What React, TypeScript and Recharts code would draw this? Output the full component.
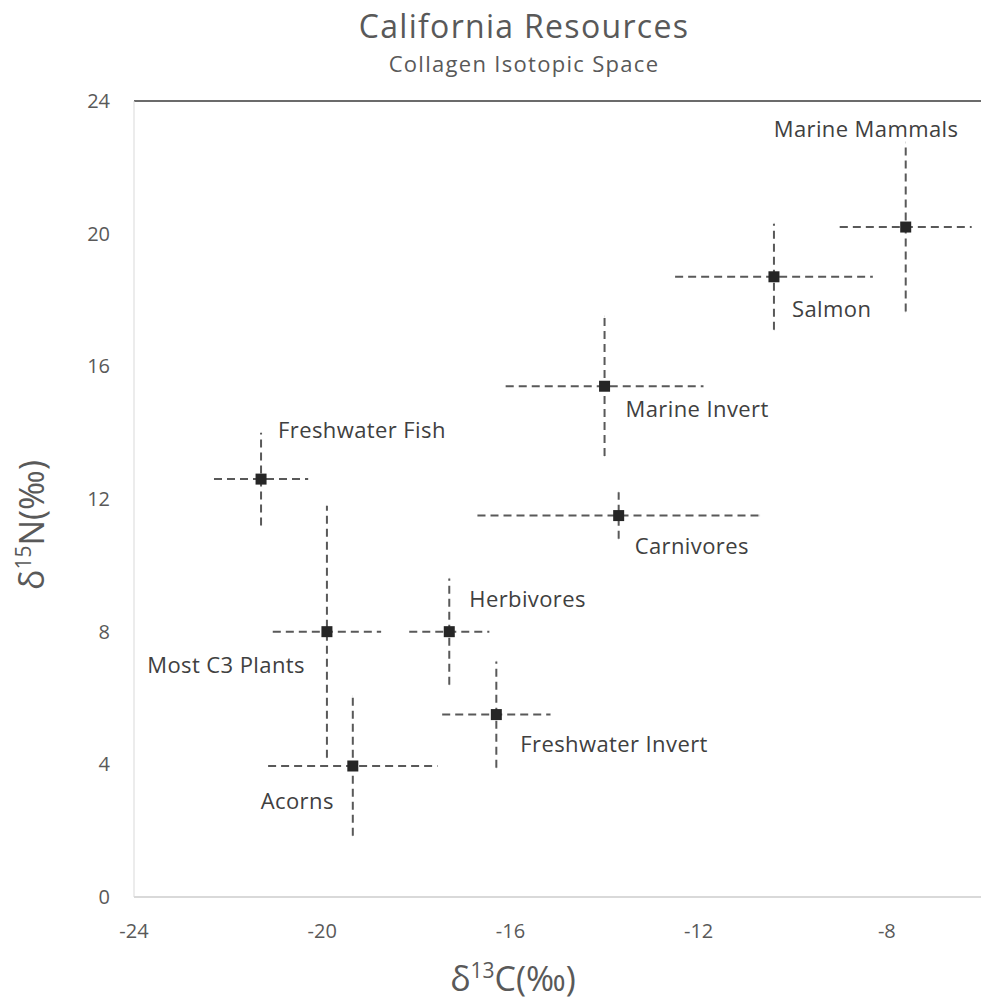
import { ScatterChart, Scatter, XAxis, YAxis, ErrorBar, ReferenceLine } from "recharts";

// Mean collagen isotope values (per mil) with one standard deviation
const groups = [
  "Marine Mammals",
  "Salmon",
  "Marine Invert",
  "Carnivores",
  "Freshwater Fish",
  "Most C3 Plants",
  "Herbivores",
  "Acorns",
  "Freshwater Invert",
];
const carbon = [-7.6, -10.4, -14.0, -13.7, -21.3, -19.9, -17.3, -19.35, -16.3];
const nitrogen = [20.2, 18.7, 15.4, 11.5, 12.6, 8.0, 8.0, 3.95, 5.5];
const carbonSd = [1.4, 2.1, 2.1, 3.0, 1.0, 1.15, 0.85, 1.8, 1.15];
const nitrogenSd = [2.55, 1.6, 2.1, 0.7, 1.4, 3.8, 1.6, 2.1, 1.6];

const xTicks = [-24, -20, -16, -12, -8];
const yTicks = [0, 4, 8, 12, 16, 20, 24];

const points = groups.map((name, i) => ({
  name,
  x: carbon[i],
  y: nitrogen[i],
  xErr: carbonSd[i],
  yErr: nitrogenSd[i],
}));

// where each group name sits relative to its marker
const labelSpot: Record<string, { dx: number; dy: number; anchor: "start" | "end" }> = {
  "Marine Mammals": { dx: -132, dy: -90, anchor: "start" },
  Salmon: { dx: 18, dy: 40, anchor: "start" },
  "Marine Invert": { dx: 21, dy: 31, anchor: "start" },
  Carnivores: { dx: 16, dy: 38, anchor: "start" },
  "Freshwater Fish": { dx: 17, dy: -41, anchor: "start" },
  "Most C3 Plants": { dx: -22, dy: 41, anchor: "end" },
  Herbivores: { dx: 20, dy: -25, anchor: "start" },
  Acorns: { dx: -19, dy: 43, anchor: "end" },
  "Freshwater Invert": { dx: 24, dy: 37, anchor: "start" },
};

const FONT = "'Open Sans', sans-serif";
const GREY = "#595959";

const renderPoint = (props: any) => {
  const { cx, cy, payload } = props;
  const spot = labelSpot[payload.name];
  return (
    <g>
      <rect x={cx - 5.5} y={cy - 5.5} width={11} height={11} fill="#262626" />
      <text
        x={cx + spot.dx}
        y={cy + spot.dy}
        textAnchor={spot.anchor}
        fontSize={22}
        letterSpacing={0.4}
        fill="#404040"
        fontFamily={FONT}
      >
        {payload.name}
      </text>
    </g>
  );
};

export default function App() {
  const tick = { fill: GREY, fontSize: 20, fontFamily: FONT };
  const errStyle = { stroke: "#595959", strokeWidth: 2, strokeDasharray: "8 5" };

  return (
    <div style={{ position: "absolute", left: 0, top: 0, width: 984, height: 1000, fontFamily: FONT }}>
      <ScatterChart width={984} height={1000} margin={{ top: 101, right: 3, bottom: 0, left: 0 }}>
        <XAxis
          type="number"
          dataKey="x"
          domain={[-24, -6]}
          ticks={xTicks}
          allowDataOverflow
          height={103}
          tickSize={0}
          tickMargin={27}
          axisLine={{ stroke: "#d9d9d9", strokeWidth: 2 }}
          tick={tick}
        />
        <YAxis
          type="number"
          dataKey="y"
          domain={[0, 24]}
          ticks={yTicks}
          width={134}
          tickSize={0}
          tickMargin={24}
          axisLine={{ stroke: "#d9d9d9" }}
          tick={tick}
        />
        <ReferenceLine y={24} stroke="#3a3a3a" strokeWidth={1.5} />
        <Scatter data={points} shape={renderPoint} isAnimationActive={false}>
          <ErrorBar dataKey="xErr" direction="x" width={0} {...errStyle} />
          <ErrorBar dataKey="yErr" direction="y" width={0} {...errStyle} />
        </Scatter>
      </ScatterChart>

      <svg
        width={984}
        height={1000}
        style={{ position: "absolute", left: 0, top: 0, pointerEvents: "none" }}
        fontFamily={FONT}
        fill={GREY}
      >
        <text x={524} y={38} textAnchor="middle" fontSize={32} letterSpacing={1.3}>
          California Resources
        </text>
        <text x={524} y={72} textAnchor="middle" fontSize={22} letterSpacing={1.3}>
          Collagen Isotopic Space
        </text>
        <text x={513} y={991} textAnchor="middle" fontSize={34}>
          δ<tspan fontSize={21} dy={-13}>13</tspan>
          <tspan dy={13}>C(‰)</tspan>
        </text>
        <text transform="translate(44 525) rotate(-90)" textAnchor="middle" fontSize={34}>
          δ<tspan fontSize={21} dy={-13}>15</tspan>
          <tspan dy={13}>N(‰)</tspan>
        </text>
      </svg>
    </div>
  );
}
